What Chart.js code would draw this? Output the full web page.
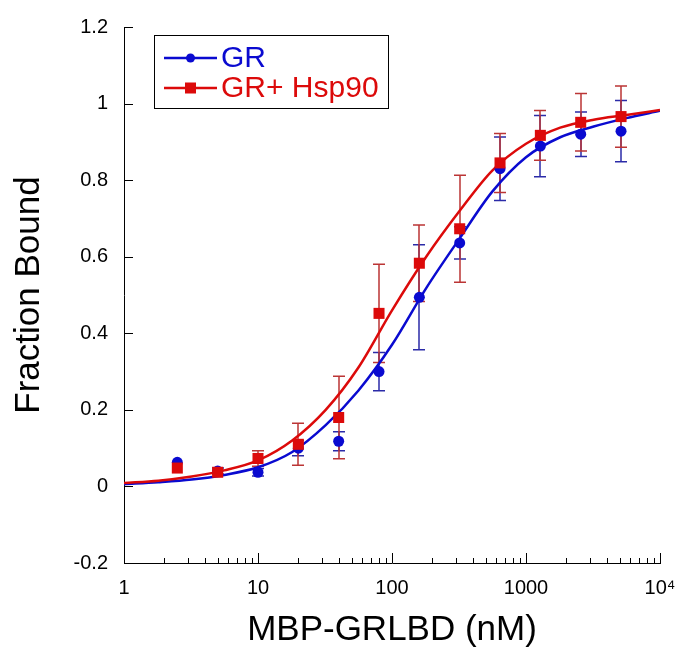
<!DOCTYPE html>
<html>
<head>
<meta charset="utf-8">
<script src="https://cdn.jsdelivr.net/npm/chart.js@4.4.1/dist/chart.umd.min.js"></script>
<style>
  html, body { margin: 0; padding: 0; background: #fff; }
  #wrap { width: 683px; height: 651px; position: relative; }
</style>
</head>
<body>
<div id="wrap"><canvas id="c" width="683" height="651"></canvas></div>
<script>
// ---- data ----
const concentrations = [2.5, 5, 10, 20, 40, 80, 160, 320, 640, 1280, 2560, 5120];
const grMean  = [0.063, 0.040, 0.037, 0.100, 0.118, 0.300, 0.494, 0.636, 0.830, 0.889, 0.920, 0.928];
const grErr   = [0.000, 0.008, 0.010, 0.020, 0.025, 0.050, 0.137, 0.042, 0.083, 0.080, 0.058, 0.080];
const hspMean = [0.048, 0.037, 0.073, 0.110, 0.180, 0.452, 0.583, 0.673, 0.845, 0.917, 0.951, 0.966];
const hspErr  = [0.000, 0.005, 0.020, 0.055, 0.108, 0.128, 0.100, 0.140, 0.077, 0.065, 0.075, 0.080];

const fitX   = [1, 1.8, 3.2, 5.6, 10, 18, 32, 56, 100, 180, 320, 560, 1000, 1800, 3200, 5600, 10000];
const grFit  = [0.006, 0.011, 0.018, 0.030, 0.050, 0.090, 0.160, 0.250, 0.370, 0.518, 0.648, 0.770, 0.860, 0.912, 0.940, 0.962, 0.981];
const hspFit = [0.009, 0.015, 0.026, 0.042, 0.068, 0.120, 0.200, 0.310, 0.460, 0.600, 0.720, 0.825, 0.895, 0.937, 0.958, 0.970, 0.983];

const xMajorTicks = [1, 10, 100, 1000, 10000];
const xTickLabels = ['1', '10', '100', '1000', '10\u2074'];
const yTickValues = [-0.2, 0, 0.2, 0.4, 0.6, 0.8, 1, 1.2];

const seriesNames = ['GR', 'GR+ Hsp90'];
const BLUE = '#0a0ad0';
const RED = '#dc0a0a';
const BLUE_ERR = '#2b2ba8';
const RED_ERR = '#bb3535';
const FONT = '"Liberation Sans", Arial, sans-serif';

const pts = (xs, ys) => xs.map((x, i) => ({ x: x, y: ys[i] }));

// error bars plugin
const errorBars = {
  id: 'errorBars',
  beforeDatasetsDraw(chart) {
    const ctx = chart.ctx;
    const xs = chart.scales.x, ys = chart.scales.y;
    const sets = [[grMean, grErr, BLUE_ERR], [hspMean, hspErr, RED_ERR]];
    ctx.save();
    ctx.lineWidth = 1.5;
    sets.forEach(([m, e, col]) => {
      ctx.strokeStyle = col;
      concentrations.forEach((c, i) => {
        if (!e[i]) return;
        const px = Math.round(xs.getPixelForValue(c));
        const top = ys.getPixelForValue(m[i] + e[i]);
        const bot = ys.getPixelForValue(m[i] - e[i]);
        ctx.beginPath();
        ctx.moveTo(px, top); ctx.lineTo(px, bot);
        ctx.moveTo(px - 6, top); ctx.lineTo(px + 6, top);
        ctx.moveTo(px - 6, bot); ctx.lineTo(px + 6, bot);
        ctx.stroke();
      });
    });
    ctx.restore();
  }
};

// inward ticks plugin
const inwardTicks = {
  id: 'inwardTicks',
  afterDraw(chart) {
    const ctx = chart.ctx;
    const xs = chart.scales.x, ys = chart.scales.y;
    const a = chart.chartArea;
    ctx.save();
    ctx.strokeStyle = '#000';
    ctx.lineWidth = 1;
    ctx.beginPath();
    for (let d = 0; d < 4; d++) {
      for (let k = 2; k <= 9; k++) {
        const px = Math.round(xs.getPixelForValue(k * Math.pow(10, d))) + 0.5;
        ctx.moveTo(px, a.bottom); ctx.lineTo(px, a.bottom - 5);
      }
    }
    xMajorTicks.forEach(v => {
      const px = Math.round(xs.getPixelForValue(v)) + 0.5;
      ctx.moveTo(px, a.bottom); ctx.lineTo(px, a.bottom - 10);
    });
    yTickValues.forEach(v => {
      const py = Math.round(ys.getPixelForValue(v)) + 0.5;
      ctx.moveTo(a.left, py); ctx.lineTo(a.left + 9, py);
    });
    ctx.stroke();
    ctx.restore();
  }
};

// legend plugin (boxed, inside the plot)
const boxLegend = {
  id: 'boxLegend',
  afterDraw(chart) {
    const ctx = chart.ctx;
    ctx.save();
    const L = 154, T = 35, W = 234, H = 73;
    ctx.strokeStyle = '#000';
    ctx.lineWidth = 1;
    ctx.strokeRect(L + 0.5, T + 0.5, W, H);
    const rows = [[58, BLUE, 'circle', seriesNames[0]], [88, RED, 'rect', seriesNames[1]]];
    ctx.font = '30px ' + FONT;
    ctx.textBaseline = 'middle';
    rows.forEach(([y, col, shape, label]) => {
      ctx.strokeStyle = col;
      ctx.fillStyle = col;
      ctx.lineWidth = 2.5;
      ctx.beginPath();
      ctx.moveTo(164, y); ctx.lineTo(217, y);
      ctx.stroke();
      if (shape === 'circle') {
        ctx.beginPath(); ctx.arc(190.5, y, 4.5, 0, Math.PI * 2); ctx.fill();
      } else {
        ctx.fillRect(185, y - 5.5, 11, 11);
      }
      ctx.fillText(label, 221, y + 1);
    });
    ctx.restore();
  }
};

new Chart(document.getElementById('c'), {
  type: 'scatter',
  data: {
    datasets: [
      { label: seriesNames[1] + ' points', data: pts(concentrations, hspMean), showLine: false,
        pointStyle: 'rect', pointRadius: 7.8, backgroundColor: RED, borderColor: RED, borderWidth: 0, order: 0 },
      { label: seriesNames[0] + ' points', data: pts(concentrations, grMean), showLine: false,
        pointStyle: 'circle', pointRadius: 5.5, backgroundColor: BLUE, borderColor: BLUE, borderWidth: 0, order: 1 },
      { label: seriesNames[1] + ' fit', data: pts(fitX, hspFit), showLine: true, pointRadius: 0,
        borderColor: RED, borderWidth: 2.5, cubicInterpolationMode: 'monotone', fill: false, order: 2 },
      { label: seriesNames[0] + ' fit', data: pts(fitX, grFit), showLine: true, pointRadius: 0,
        borderColor: BLUE, borderWidth: 2.5, cubicInterpolationMode: 'monotone', fill: false, order: 3 }
    ]
  },
  options: {
    responsive: false,
    animation: false,
    events: [],
    layout: { padding: { top: 27, right: 23, left: 2, bottom: 0 } },
    plugins: { legend: { display: false }, tooltip: { enabled: false } },
    scales: {
      x: {
        type: 'logarithmic', min: 1, max: 10000,
        afterBuildTicks(scale) { scale.ticks = xMajorTicks.map(v => ({ value: v })); },
        afterFit(scale) { scale.height = 88; },
        ticks: {
          autoSkip: false, maxRotation: 0, padding: 5, color: '#000',
          font: { family: FONT, size: 20 },
          callback(v) { const i = xMajorTicks.indexOf(v); return i >= 0 ? xTickLabels[i] : ''; }
        },
        grid: { display: false },
        border: { display: true, color: '#000', width: 1 },
        title: { display: true, text: 'MBP-GRLBD (nM)', color: '#000', padding: { top: 0, bottom: 0 },
                 font: { family: FONT, size: 35 } }
      },
      y: {
        type: 'linear', min: -0.2, max: 1.2,
        afterBuildTicks(scale) { scale.ticks = yTickValues.map(v => ({ value: v })); },
        afterFit(scale) { scale.width = 122; },
        ticks: {
          padding: 8, color: '#000',
          font: { family: FONT, size: 20 },
          callback(v) { return String(Number(v.toFixed(1))); }
        },
        grid: { display: false },
        border: { display: true, color: '#000', width: 1 },
        title: { display: true, text: 'Fraction Bound', color: '#000', padding: { top: 6, bottom: 0 },
                 font: { family: FONT, size: 35 } }
      }
    }
  },
  plugins: [errorBars, inwardTicks, boxLegend]
});
</script>
</body>
</html>
